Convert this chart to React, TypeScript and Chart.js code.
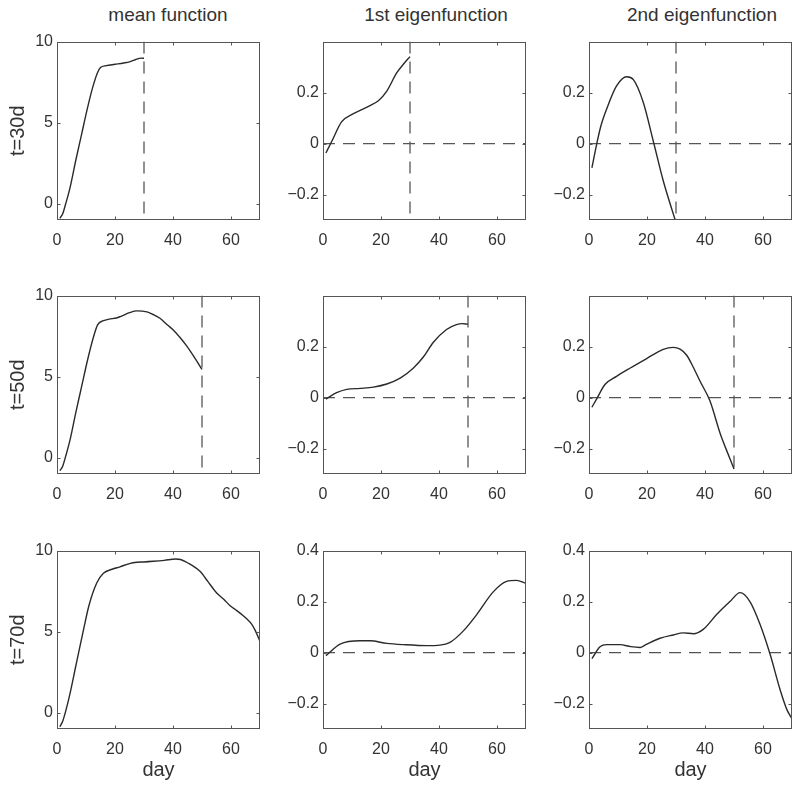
import React, { useEffect, useRef } from 'react';
import { Chart, registerables } from 'chart.js';

Chart.register(...registerables);

// ---------- data ----------
const columnTitles = ['mean function', '1st eigenfunction', '2nd eigenfunction'];
const rowLabels = ['t=30d', 't=50d', 't=70d'];
const cutoffs = [30, 50, 70];
const xAxisLabel = 'day';

const dayTicks = [0, 20, 40, 60];
const meanTicks = [0, 5, 10];
const eigTicksShort = [-0.2, 0, 0.2];
const eigTicksFull = [-0.2, 0, 0.2, 0.4];

// mean function
const mean30Days = [1, 2, 3, 4.5, 6.5, 8.5, 10.5, 12.5, 14, 15, 17, 20, 23, 25, 27, 29, 30];
const mean30Vals = [-0.9, -0.6, 0.0, 1.0, 2.7, 4.3, 5.9, 7.3, 8.1, 8.4, 8.52, 8.6, 8.68, 8.75, 8.88, 8.98, 8.97];

const mean50Days = [1, 2, 3, 4.5, 6.5, 8.5, 10.5, 12.5, 14, 16, 18, 20.5, 22, 25, 27.5, 31, 33, 35.5, 38, 40, 42.5, 44.7, 47, 50];
const mean50Vals = [-0.8, -0.5, 0.1, 1.1, 2.8, 4.4, 6.0, 7.4, 8.2, 8.45, 8.55, 8.62, 8.72, 8.95, 9.06, 9.0, 8.85, 8.6, 8.2, 7.9, 7.4, 6.9, 6.3, 5.45];

const mean70Days = [1, 2, 3, 4.5, 6.5, 9, 11, 13.7, 16, 19, 21.7, 25, 27.5, 30, 33.2, 37, 40.9, 42.6, 45, 49.3, 52, 55, 57.5, 59.7, 62, 65.4, 67, 68.3, 70];
const mean70Vals = [-0.86, -0.5, 0.1, 1.2, 2.9, 5.0, 6.6, 8.0, 8.6, 8.85, 9.0, 9.2, 9.28, 9.3, 9.34, 9.4, 9.48, 9.45, 9.25, 8.72, 8.1, 7.4, 7.0, 6.6, 6.3, 5.8, 5.5, 5.1, 4.4];

// 1st eigenfunction
const eig1t30Days = [1, 3, 6.4, 10.5, 16.2, 19.1, 22, 25.4, 28, 30];
const eig1t30Vals = [-0.037, 0.008, 0.085, 0.117, 0.149, 0.168, 0.206, 0.277, 0.315, 0.341];

const eig1t50Days = [1, 4.7, 8.2, 12.8, 17.4, 22, 26.6, 31.1, 34.6, 38, 42.6, 46, 48, 50];
const eig1t50Vals = [-0.006, 0.019, 0.032, 0.036, 0.041, 0.053, 0.076, 0.115, 0.159, 0.216, 0.267, 0.286, 0.29, 0.288];

const eig1t70Days = [1, 5.9, 12.8, 16.2, 22, 27.7, 35.8, 40.3, 43.8, 48.4, 53, 58.7, 63.3, 66.7, 70];
const eig1t70Vals = [-0.012, 0.033, 0.046, 0.046, 0.036, 0.031, 0.027, 0.029, 0.04, 0.085, 0.149, 0.238, 0.279, 0.283, 0.272];

// 2nd eigenfunction
const eig2t30Days = [1, 2.6, 4, 6.1, 9.5, 13, 15.3, 18.7, 22.2, 25.6, 30];
const eig2t30Vals = [-0.095, -0.005, 0.065, 0.136, 0.226, 0.262, 0.251, 0.162, 0.008, -0.146, -0.31];

const eig2t50Days = [1, 2.6, 5.5, 9.5, 14.1, 19.9, 25.6, 29, 31.4, 33.7, 36, 38.3, 41.7, 45.2, 48.6, 50];
const eig2t50Vals = [-0.038, -0.006, 0.051, 0.083, 0.115, 0.153, 0.189, 0.197, 0.19, 0.166, 0.118, 0.064, -0.013, -0.14, -0.24, -0.28];

const eig2t70Days = [1, 3.8, 6.1, 10.7, 14.4, 17.6, 19.6, 24.5, 29.1, 32.5, 36, 39.4, 44, 48.6, 52.1, 55.5, 59, 62.4, 65.9, 68.2, 70];
const eig2t70Vals = [-0.024, 0.023, 0.031, 0.031, 0.023, 0.02, 0.031, 0.056, 0.069, 0.077, 0.074, 0.091, 0.149, 0.2, 0.235, 0.2, 0.11, -0.005, -0.146, -0.223, -0.26];

const meanRange = [-1, 10];
const eigRange = [-0.3, 0.4];
const dayRange = [0, 70];

// ---------- layout ----------
const FONT = '"Liberation Sans", Arial, Helvetica, sans-serif';
const TEXT = '#333';
const PLOT_LEFT = [57, 323, 589];
const PLOT_TOP = [38, 292, 547];
const PLOT_W = 203;
const PLOT_H = 182;
const YW = 57;
const TOPPAD = 10;
const RIGHTPAD = 8;
const TITLE_CENTERS = [168, 436, 702];

Chart.defaults.font.family = FONT;

type Panel = {
  row: number;
  col: number;
  days: number[];
  vals: number[];
};

const panels: Panel[] = [
  { row: 0, col: 0, days: mean30Days, vals: mean30Vals },
  { row: 0, col: 1, days: eig1t30Days, vals: eig1t30Vals },
  { row: 0, col: 2, days: eig2t30Days, vals: eig2t30Vals },
  { row: 1, col: 0, days: mean50Days, vals: mean50Vals },
  { row: 1, col: 1, days: eig1t50Days, vals: eig1t50Vals },
  { row: 1, col: 2, days: eig2t50Days, vals: eig2t50Vals },
  { row: 2, col: 0, days: mean70Days, vals: mean70Vals },
  { row: 2, col: 1, days: eig1t70Days, vals: eig1t70Vals },
  { row: 2, col: 2, days: eig2t70Days, vals: eig2t70Vals },
];

const fmt = (v: number) => {
  const s = String(Math.round(v * 1000) / 1000);
  return v < 0 ? '\u2212' + s.slice(1) : s;
};

const framePlugin = {
  id: 'frame',
  afterDatasetsDraw(chart: any) {
    const { ctx, chartArea: a, scales } = chart;
    ctx.save();
    ctx.strokeStyle = '#555';
    ctx.lineWidth = 1;
    const l = Math.round(a.left) + 0.5;
    const r = Math.round(a.right) - 0.5;
    const t = Math.round(a.top) + 0.5;
    const b = Math.round(a.bottom) - 0.5;
    ctx.strokeRect(l, t, r - l, b - t);
    const tl = 3;
    ctx.beginPath();
    for (const tk of scales.x.ticks) {
      const px = Math.round(scales.x.getPixelForValue(tk.value)) + 0.5;
      ctx.moveTo(px, b);
      ctx.lineTo(px, b - tl);
      ctx.moveTo(px, t);
      ctx.lineTo(px, t + tl);
    }
    for (const tk of scales.y.ticks) {
      const py = Math.round(scales.y.getPixelForValue(tk.value)) + 0.5;
      ctx.moveTo(l, py);
      ctx.lineTo(l + tl, py);
      ctx.moveTo(r, py);
      ctx.lineTo(r - tl, py);
    }
    ctx.stroke();
    ctx.restore();
  },
};

function PanelChart({ p }: { p: Panel }) {
  const ref = useRef<HTMLCanvasElement | null>(null);
  const isMean = p.col === 0;
  const lastRow = p.row === 2;
  const XH = lastRow ? 58 : 30;
  const width = YW + PLOT_W + RIGHTPAD;
  const height = TOPPAD + PLOT_H + XH;
  const left = PLOT_LEFT[p.col] - YW;
  const top = PLOT_TOP[p.row] - TOPPAD;

  useEffect(() => {
    if (!ref.current) return;
    const yRange = isMean ? meanRange : eigRange;
    const yTicks = isMean ? meanTicks : lastRow ? eigTicksFull : eigTicksShort;
    const cutoff = cutoffs[p.row];
    const datasets: any[] = [
      {
        data: p.days.map((d, i) => ({ x: d, y: p.vals[i] })),
        borderColor: '#2a2a2a',
        borderWidth: 1.4,
        pointRadius: 0,
        cubicInterpolationMode: 'monotone',
        fill: false,
      },
    ];
    if (cutoff < dayRange[1]) {
      datasets.push({
        data: [
          { x: cutoff, y: yRange[1] },
          { x: cutoff, y: yRange[0] },
        ],
        borderColor: '#555',
        borderWidth: 1.3,
        borderDash: [12, 8],
        pointRadius: 0,
        tension: 0,
        fill: false,
      });
    }
    if (!isMean) {
      datasets.push({
        data: [
          { x: dayRange[0], y: 0 },
          { x: dayRange[1], y: 0 },
        ],
        borderColor: '#555',
        borderWidth: 1.3,
        borderDash: [12, 8],
        pointRadius: 0,
        tension: 0,
        fill: false,
      });
    }

    const chart = new Chart(ref.current, {
      type: 'line',
      data: { datasets },
      options: {
        animation: false,
        responsive: false,
        maintainAspectRatio: false,
        events: [],
        layout: { padding: { top: TOPPAD, right: RIGHTPAD, left: 0, bottom: 0 } },
        plugins: { legend: { display: false }, tooltip: { enabled: false }, title: { display: false } },
        scales: {
          x: {
            type: 'linear',
            min: dayRange[0],
            max: dayRange[1],
            bounds: 'data',
            grid: { display: false, drawTicks: false },
            border: { display: false },
            ticks: {
              stepSize: 20,
              padding: 11,
              color: TEXT,
              font: { size: 16, family: FONT },
              maxRotation: 0,
              autoSkip: false,
              callback: (v: any) => fmt(Number(v)),
            },
            afterBuildTicks: (s: any) => {
              s.ticks = dayTicks.map((v) => ({ value: v }));
            },
            afterFit: (s: any) => {
              s.height = XH;
            },
            title: {
              display: lastRow,
              text: xAxisLabel,
              color: TEXT,
              font: { size: 20, family: FONT },
              padding: { top: 0, bottom: 5 },
            },
          },
          y: {
            type: 'linear',
            min: yRange[0],
            max: yRange[1],
            bounds: 'data',
            grid: { display: false, drawTicks: false },
            border: { display: false },
            ticks: {
              padding: 4,
              color: TEXT,
              font: { size: 16, family: FONT },
              autoSkip: false,
              callback: (v: any) => fmt(Number(v)),
            },
            afterBuildTicks: (s: any) => {
              s.ticks = yTicks.map((v) => ({ value: v }));
            },
            afterFit: (s: any) => {
              s.width = YW;
            },
            title: {
              display: isMean,
              text: rowLabels[p.row],
              color: TEXT,
              font: { size: 20, family: FONT },
              padding: { top: 6, bottom: 0 },
            },
          },
        },
      },
      plugins: [framePlugin],
    } as any);
    return () => chart.destroy();
  }, []);

  return (
    <canvas
      ref={ref}
      width={width}
      height={height}
      style={{ position: 'absolute', left, top, width, height, display: 'block' }}
    />
  );
}

export default function App() {
  return (
    <div
      style={{
        position: 'absolute',
        left: 0,
        top: 0,
        width: 800,
        height: 788,
        background: '#fff',
        overflow: 'hidden',
      }}
    >
      {columnTitles.map((t, i) => (
        <div
          key={t}
          style={{
            position: 'absolute',
            left: TITLE_CENTERS[i] - 120,
            width: 240,
            top: 5,
            textAlign: 'center',
            fontFamily: FONT,
            fontSize: 19,
            lineHeight: '19px',
            color: TEXT,
            whiteSpace: 'nowrap',
          }}
        >
          {t}
        </div>
      ))}
      {panels.map((p) => (
        <PanelChart key={`${p.row}-${p.col}`} p={p} />
      ))}
    </div>
  );
}
